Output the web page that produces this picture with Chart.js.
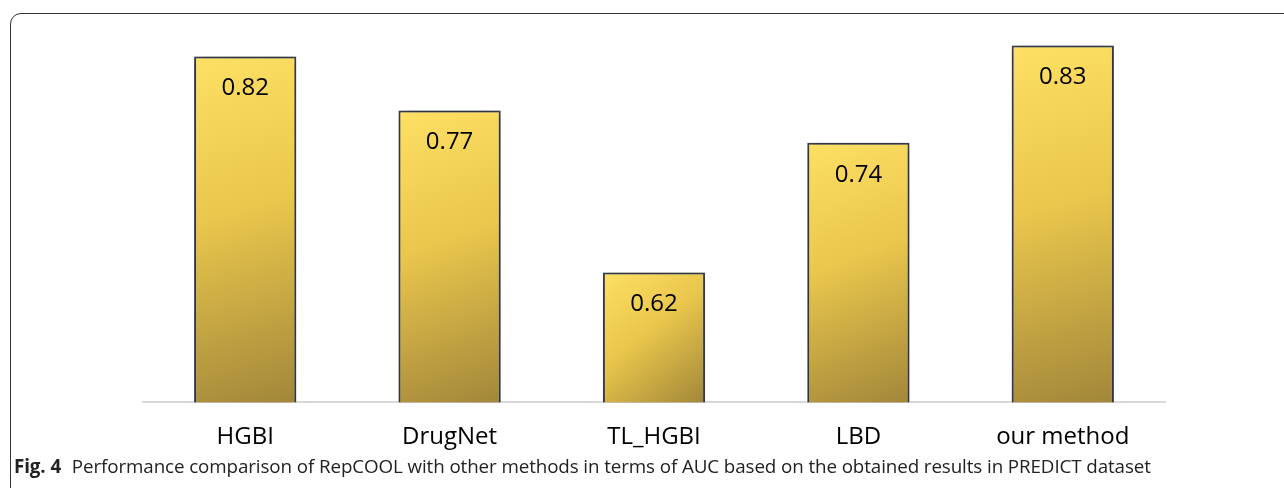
<!DOCTYPE html>
<html>
<head>
<meta charset="utf-8">
<script src="https://cdn.jsdelivr.net/npm/chart.js@4/dist/chart.umd.min.js"></script>
<style>
    html, body { margin: 0; padding: 0; background: #fff; }
    body { width: 1284px; height: 488px; position: relative; overflow: hidden; }
    #frame {
        position: absolute; left: 10px; top: 13px; width: 1300px; height: 500px;
        border: 1.5px solid #333; border-radius: 11px; box-sizing: border-box;
    }
    #wrap { position: absolute; left: 0; top: 0; width: 1284px; height: 488px; }
    #caption {
        position: absolute; left: 14px; top: 453px; font-family: "Open Sans", sans-serif;
        font-size: 18.8px; color: #222; white-space: nowrap; letter-spacing: -0.1px;
    }
    #caption b { margin-right: 6px; }
</style>
</head>
<body>
<div id="frame"></div>
<div id="wrap"><canvas id="aucChart" width="1284" height="488"></canvas></div>
<div id="caption"><b>Fig. 4</b> Performance comparison of RepCOOL with other methods in terms of AUC based on the obtained results in PREDICT dataset</div>
<script>
// данные графика
const methods = ['HGBI', 'DrugNet', 'TL_HGBI', 'LBD', 'our method'];
const aucValues = [0.82, 0.77, 0.62, 0.74, 0.83];

// градиент для каждого столбца
function barGradient(context) {
    const chart = context.chart;
    const area = chart.chartArea;
    if (!area || context.type !== 'data') return '#e8c24a';
    const xScale = chart.scales.x;
    const yScale = chart.scales.y;
    const xc = xScale.getPixelForValue(context.dataIndex);
    const top = yScale.getPixelForValue(context.raw);
    const half = 51;
    const g = chart.ctx.createLinearGradient(xc - half, top, xc + half, area.bottom);
    g.addColorStop(0, '#fde064');
    g.addColorStop(0.45, '#e9c64c');
    g.addColorStop(1, '#a2873a');
    return g;
}

// тень под столбцами
const shadowPlugin = {
    id: 'barShadow',
    beforeDatasetsDraw(chart) {
        const ctx = chart.ctx;
        ctx.save();
        ctx.shadowColor = 'rgba(0, 0, 0, 0.45)';
        ctx.shadowBlur = 12;
        ctx.shadowOffsetX = 0;
        ctx.shadowOffsetY = 0;
    },
    afterDatasetsDraw(chart) {
        chart.ctx.restore();
    }
};

// подписи значений внутри столбцов
const valueLabels = {
    id: 'valueLabels',
    afterDatasetsDraw(chart) {
        const ctx = chart.ctx;
        const meta = chart.getDatasetMeta(0);
        ctx.save();
        ctx.fillStyle = '#000';
        ctx.font = '24px "Open Sans", sans-serif';
        ctx.textAlign = 'center';
        ctx.textBaseline = 'middle';
        meta.data.forEach((bar, i) => {
            ctx.fillText(aucValues[i].toFixed(2), bar.x, bar.y + 32);
        });
        ctx.restore();
    }
};

const ctx = document.getElementById('aucChart').getContext('2d');
new Chart(ctx, {
    type: 'bar',
    data: {
        labels: methods,
        datasets: [{
            data: aucValues,
            backgroundColor: barGradient,
            borderColor: '#3d4452',
            borderWidth: 2,
            borderSkipped: 'bottom',
            categoryPercentage: 1.0,
            barPercentage: 0.5
        }]
    },
    options: {
        responsive: false,
        animation: false,
        layout: { padding: { left: 143, right: 119, top: 24, bottom: 23 } },
        plugins: { legend: { display: false }, tooltip: { enabled: false } },
        scales: {
            y: { display: false, min: 0.5, max: 0.85 },
            x: {
                grid: { display: false },
                border: { display: true, color: '#d9d9d9', width: 2 },
                ticks: {
                    color: '#000',
                    padding: 13,
                    font: { family: '"Open Sans", sans-serif', size: 24 }
                }
            }
        }
    },
    plugins: [shadowPlugin, valueLabels]
});
</script>
</body>
</html>
